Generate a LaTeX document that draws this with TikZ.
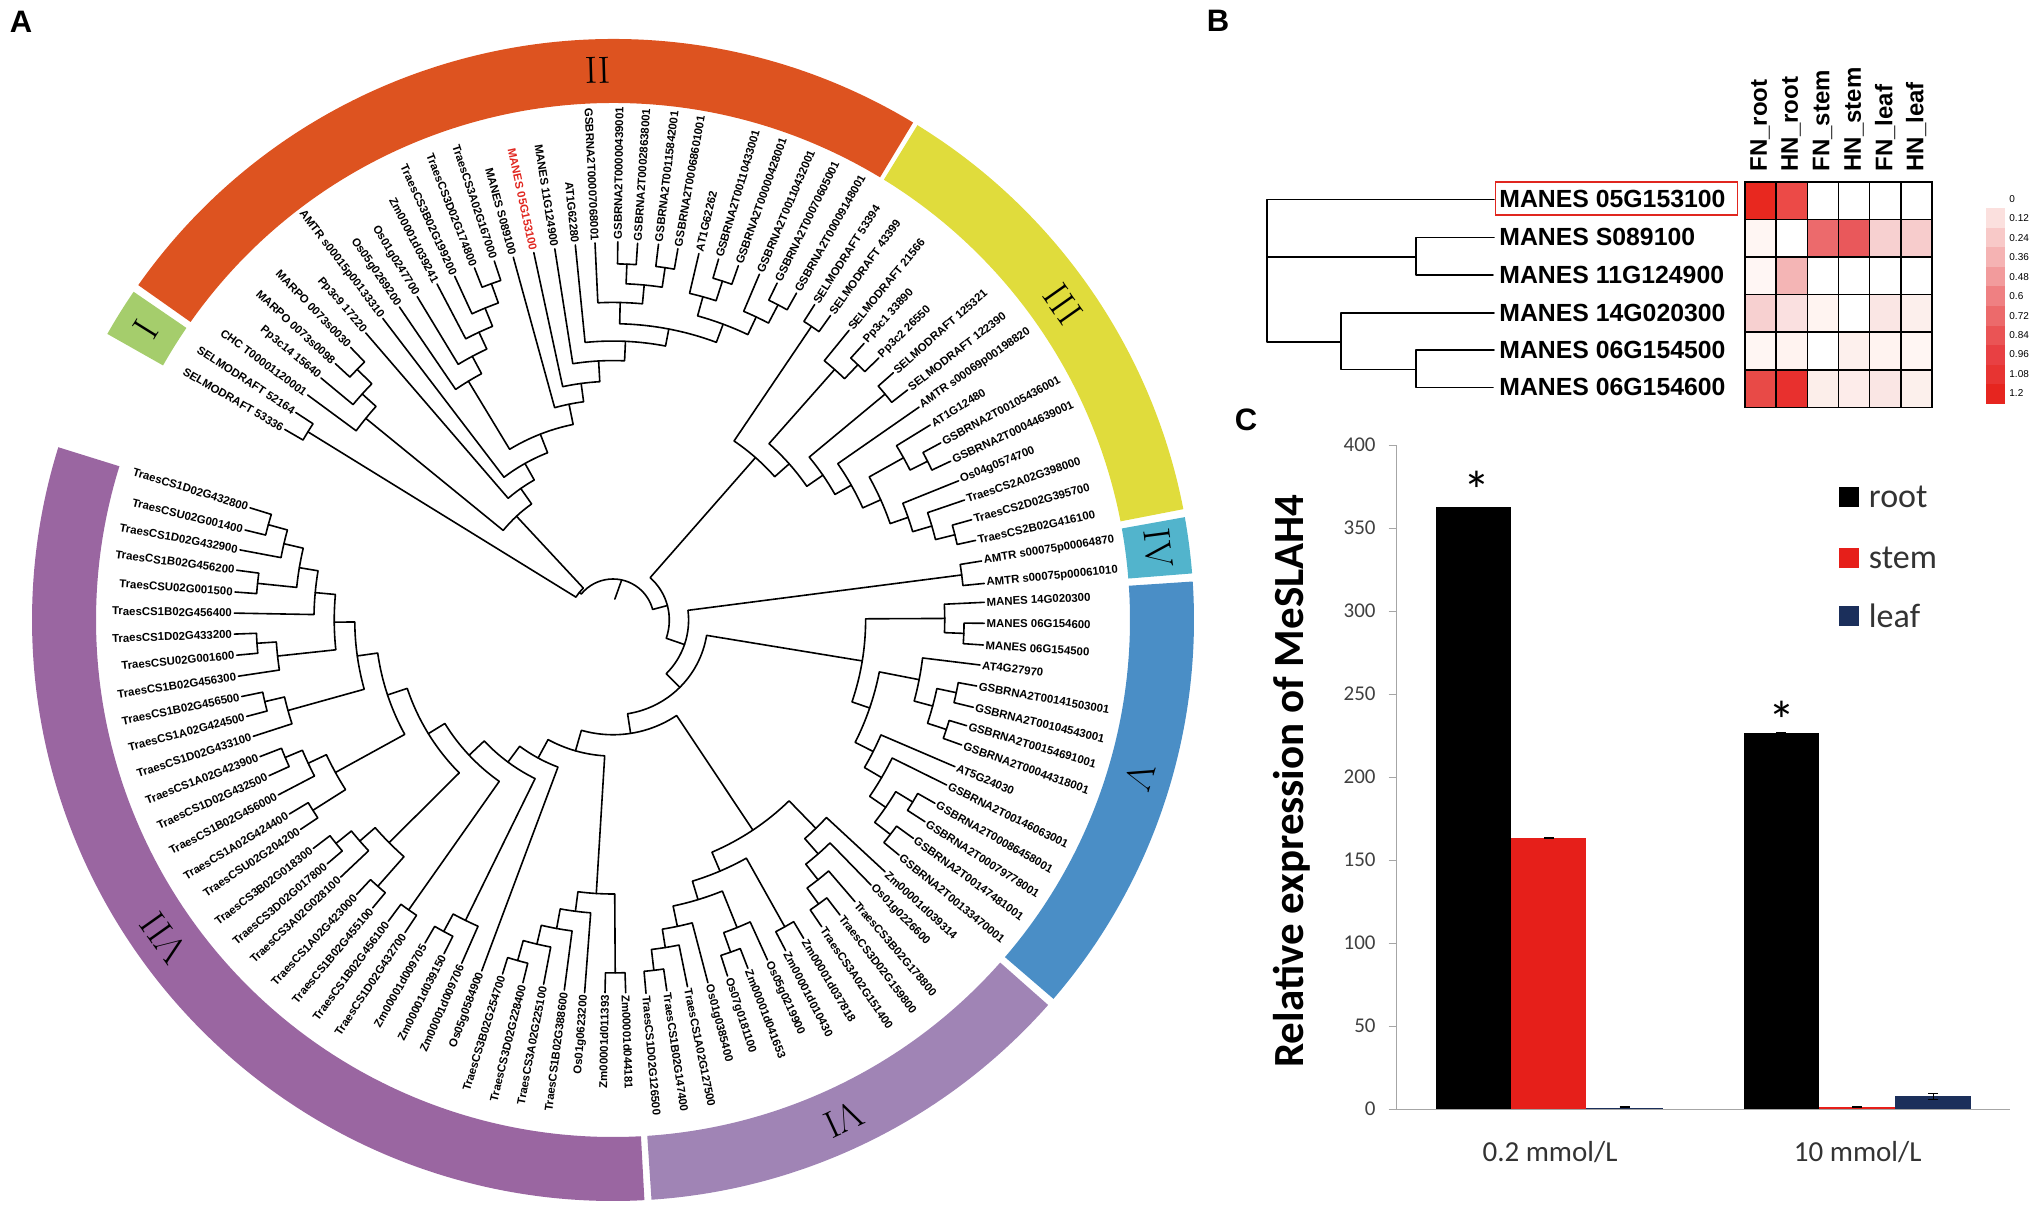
\documentclass[tikz,border=0pt]{standalone}
\usepackage{fontspec}
\newfontfamily\arialfont{Liberation Sans}
\newfontfamily\calibfont{Carlito}
\tikzset{
  leaflab/.style={font=\arialfont\bfseries\fontsize{5.7}{7}\selectfont, inner sep=1pt},
  branch/.style={line width=.8pt, line join=round, line cap=round},
  numeral/.style={font=\fontsize{19}{20}\selectfont, inner sep=0pt},
  panel/.style={font=\arialfont\bfseries\fontsize{15.5}{16}\selectfont, inner sep=0pt},
  genelab/.style={font=\arialfont\bfseries\fontsize{12.4}{14}\selectfont, anchor=west, inner sep=0pt},
  collab/.style={font=\arialfont\bfseries\fontsize{12}{14}\selectfont, anchor=west, rotate=90, inner sep=0pt},
  scalelab/.style={font=\arialfont\fontsize{5}{6}\selectfont, anchor=west, inner sep=0pt},
  heatcell/.style={draw=black, line width=.75pt},
  axisline/.style={draw=black!35, line width=.5pt},
  ticklab/.style={font=\calibfont\fontsize{10.5}{12}\selectfont, text=black!75, anchor=east, inner sep=0pt},
  barlab/.style={font=\calibfont\fontsize{14.5}{16}\selectfont, text=black!80, inner sep=0pt},
  leglab/.style={font=\calibfont\fontsize{17}{18}\selectfont, text=black!80, anchor=west, inner sep=0pt},
  errbar/.style={line width=.5pt, draw=black},
  starlab/.style={font=\calibfont\fontsize{27}{28}\selectfont, inner sep=0pt},
}
% tip of a leaf, in pixels of the figure; the label sits along the radius
\newcommand\leaf[4]{%
  \pgfmathsetmacro\lfR{veclen(#2-613,620-#3)}%
  \pgfmathsetmacro\lfA{atan2(620-#3,#2-613)}%
  \pgfmathsetmacro\lfA{(\lfA>156)?(\lfA-360):(\lfA)}%
  \expandafter\xdef\csname a@#1\endcsname{\lfA}%
  \coordinate (#1) at (\lfA:\lfR);
  \pgfmathtruncatemacro\lfL{cos(\lfA)<0}%
  \ifnum\lfL=1
    \node[leaflab, anchor=east, rotate=\lfA+180] (#1-lab) at (\lfA:\lfR) {#4};
  \else
    \node[leaflab, anchor=west, rotate=\lfA] (#1-lab) at (\lfA:\lfR) {#4};
  \fi
}
% name, two children, a pixel on the arc of the clade
\newcommand\clade[5]{%
  \pgfmathsetmacro\clR{veclen(#4-613,620-#5)}%
  \edef\clA{\csname a@#2\endcsname}%
  \edef\clB{\csname a@#3\endcsname}%
  \pgfmathsetmacro\clM{(\clA+\clB)/2}%
  \expandafter\xdef\csname a@#1\endcsname{\clM}%
  \coordinate (#1) at (\clM:\clR);
  \draw[branch] (#2) -- (\clA:\clR) arc[start angle=\clA, end angle=\clB, radius=\clR] -- (#3);
}
\begin{document}
\begin{tikzpicture}[x=.5pt,y=-.5pt]
  \useasboundingbox (0,0) rectangle (2033,1204);
  \node[panel] (panelA) at (21,22) {A};
  \node[panel] (panelB) at (1218,21) {B};
  \node[panel] (panelC) at (1246,420) {C};

  % panel A
  \begin{scope}[shift={(613,620)},y=.5pt]
    \foreach \rname/\rs/\re/\rcol/\rm/\rlab in {
      ringI/145.6/150.5/A5CD6C/148.1/I,
      ringII/58.9/144.8/DD5320/91.6/II,
      ringIII/11/58.4/E0DC3C/35.1/III,
      ringIV/4.6/10.2/52B4CC/7.5/IV,
      ringV/-40.7/3.8/4A8EC6/-16.6/V,
      ringVI/-86.2/-41.5/A084B5/-65.2/VI,
      ringVII/162.7/273.1/9A66A1/215.3/VII}{
      \definecolor{ringcol}{HTML}{\rcol}
      \fill[ringcol] (\rs:581) arc[start angle=\rs, end angle=\re, radius=581]
        -- (\re:517) arc[start angle=\re, end angle=\rs, radius=517] -- cycle;
      \node[numeral, rotate=\rm-90] (\rname) at (\rm:550) {\rlab};
    }

    \foreach \lname/\lx/\ly/\ltext in {
      sel53336/284.7/429.4/SELMODRAFT 53336,
      sel52164/295.8/412.5/SELMODRAFT 52164,
      chc/307.6/395/CHC T00001120001,
      pp14/321/378/Pp3c14 15640,
      marpo98/335.3/363.6/MARPO 0073s0098,
      marpo30/350.7/347.5/MARPO 0073s0030,
      pp9/365.8/333/Pp3c9 17220,
      amtr15/382.8/318.4/AMTR s00015p00133310,
      os05269/399.4/307/Os05g0269200,
      os01247/417.2/296.6/Os01g0247700,
      zm241/437/284/Zm00001d039241,
      t3b199/454.7/276.3/TraesCS3B02G199200,
      t3d174/474.5/267.9/TraesCS3D02G174800,
      t3a167/494.3/261/TraesCS3A02G167000,
      ms089/513.3/257.2/MANES S089100,
      m05/533.8/252.6/\textcolor[HTML]{E0261F}{MANES 05G153100},
      m11/554.8/248.8/MANES 11G124900,
      at62280/575.3/245/AT1G62280,
      gs7068/595/243/GSBRNA2T00007068001,
      gs439/617.8/241.8/GSBRNA2T00000439001,
      gs28638/637.6/243.2/GSBRNA2T00028638001,
      gs115842/658.5/244.2/GSBRNA2T00115842001,
      gs68601/677.9/248.7/GSBRNA2T00068601001,
      at62262/698.9/253.5/AT1G62262,
      gs110433/718.6/259/GSBRNA2T00110433001,
      gs428/738.4/265.6/GSBRNA2T00000428001,
      gs110432/759.4/274.2/GSBRNA2T00110432001,
      gs70605/777.1/283.1/GSBRNA2T00070605001,
      gs9148/796.5/293.1/GSBRNA2T00009148001,
      sel53394/814.7/304.5/SELMODRAFT 53394,
      sel43399/830.5/315.5/SELMODRAFT 43399,
      sel21566/849.1/330.3/SELMODRAFT 21566,
      pp1/864.1/343.4/Pp3c1 33890,
      pp2/878.8/357.9/Pp3c2 26550,
      sel125321/893.4/372.7/SELMODRAFT 125321,
      sel122390/907.6/389.9/SELMODRAFT 122390,
      amtr69/919.1/407.1/AMTR s00069p00198820,
      at12480/930.2/425/AT1G12480,
      gs105436/940.8/442.9/GSBRNA2T00105436001,
      gs44639/950.7/461.2/GSBRNA2T00044639001,
      os04/958.6/480.8/Os04g0574700,
      t2a398/964.6/500/TraesCS2A02G398000,
      t2d395/971.7/519.7/TraesCS2D02G395700,
      t2b416/975.6/540.4/TraesCS2B02G416100,
      amtr64870/981.6/561/AMTR s00075p00064870,
      amtr61010/984.3/583.4/AMTR s00075p00061010,
      m14020/984.3/602.3/MANES 14G020300,
      m06600/984.3/623.3/MANES 06G154600,
      m06500/983.3/645/MANES 06G154500,
      at27970/980/665/AT4G27970,
      gs141503/976.7/686/GSBRNA2T00141503001,
      gs104543/973.3/707.3/GSBRNA2T00104543001,
      gs154691/966.7/725.7/GSBRNA2T00154691001,
      gs44318/961.7/745/GSBRNA2T00044318001,
      at24030/955/766.7/AT5G24030,
      gs146063/946.7/785/GSBRNA2T00146063001,
      gs86458/935/803.3/GSBRNA2T00086458001,
      gs79778/925/821.7/GSBRNA2T00079778001,
      gs147481/913.3/838.3/GSBRNA2T00147481001,
      gs133470/899/855/GSBRNA2T00133470001,
      zm039314/885/871.7/Zm00001d039314,
      os01226/871/885/Os01g0226600,
      t3b178/855/901.7/TraesCS3B02G178800,
      t3d159/840/915/TraesCS3D02G159800,
      t3a151/821.7/926.7/TraesCS3A02G151400,
      zm037818/803.6/938.3/Zm00001d037818,
      zm010430/785.7/950.7/Zm00001d010430,
      os05219/767.5/960/Os05g0219900,
      zm041653/747.9/968.3/Zm00001d041653,
      os07/727.5/976/Os07g0181100,
      os01385/707.9/982.7/Os01g0385400,
      t1a127/687.5/986.7/TraesCS1A02G127500,
      t1b147/666.8/990.7/TraesCS1B02G147400,
      t1d126/646/993.3/TraesCS1D02G126500,
      zm044/625.7/992.7/Zm00001d044181,
      zm011/605/992.7/Zm00001d011393,
      os01623/584.6/992.7/Os01g0623200,
      t1b388/564.3/990/TraesCS1B02G388600,
      t3a225/543.6/984.3/TraesCS3A02G225100,
      t3d228/522.9/982.7/TraesCS3D02G228400,
      t3b254/502.5/974/TraesCS3B02G254700,
      os05584/481.7/970.9/Os05g0584900,
      zm9706/461.7/963.3/Zm00001d009706,
      zm39150/444/953.7/Zm00001d039150,
      zm9705/425/943/Zm00001d009705,
      t432700/405/932.6/TraesCS1D02G432700,
      t456100/388.3/921.2/TraesCS1B02G456100,
      t455100/372.7/907.8/TraesCS1B02G455100,
      t423000/356.7/894.4/TraesCS1A02G423000,
      t3a028/340.7/877.1/TraesCS3A02G028100,
      t3d017/327.3/863.7/TraesCS3D02G017800,
      t3b018/313.3/848.4/TraesCS3B02G018300,
      tu204200/300.7/829.3/TraesCSU02G204200,
      t424400/289.3/814/TraesCS1A02G424400,
      t456000/278.3/794.9/TraesCS1B02G456000,
      t432500/269/775.7/TraesCS1D02G432500,
      t423900/260/756.6/TraesCS1A02G423900,
      t433100/253.3/736.3/TraesCS1D02G433100,
      t424500/246.7/716.4/TraesCS1A02G424500,
      t456500/241.7/696.5/TraesCS1B02G456500,
      t456300/238.3/676.2/TraesCS1B02G456300,
      tu1600/236.7/655.2/TraesCSU02G001600,
      t433200/234.3/634.1/TraesCS1D02G433200,
      t456400/234.3/613.1/TraesCS1B02G456400,
      tu1500/235/592/TraesCSU02G001500,
      t456200/236.7/570.2/TraesCS1B02G456200,
      t432900/240/549.9/TraesCS1D02G432900,
      tu1400/245/530/TraesCSU02G001400,
      t432800/250/507.8/TraesCS1D02G432800}{
      \leaf{\lname}{\lx}{\ly}{\ltext}
    }

    % clades II
    \clade{s12}{sel53336}{sel52164}{313.6}{422.9}
    \clade{mar}{marpo98}{marpo30}{363.8}{362.8}
    \clade{pmar}{pp14}{mar}{371.7}{383.9}
    \clade{cmar}{chc}{pmar}{374.9}{407.6}
    \clade{t34}{t3d174}{t3a167}{498.2}{281.3}
    \clade{t33}{t3b199}{t34}{495}{304.2}
    \clade{zt}{zm241}{t33}{490.3}{327.2}
    \clade{ozt}{os01247}{zt}{484.4}{350.2}
    \clade{oozt}{os05269}{ozt}{480.4}{374.3}
    \clade{gs1}{gs439}{gs28638}{617.8}{263.9}
    \clade{gs2}{gs115842}{gs68601}{657.3}{266.6}
    \clade{gs3}{gs1}{gs2}{625.7}{283.8}
    \clade{gs4}{gs7068}{gs3}{642.7}{303.8}
    \clade{gs5}{gs110433}{gs428}{732.5}{284.5}
    \clade{gs6}{at62262}{gs5}{690.2}{293.5}
    \clade{gs7}{gs70605}{gs9148}{787}{309.7}
    \clade{gs8}{gs110432}{gs7}{769.2}{323.4}
    \clade{gs9}{gs6}{gs8}{747.5}{334.4}
    \clade{gs10}{gs4}{gs9}{716.6}{342.4}
    \clade{gs11}{at62280}{gs10}{584.4}{342.5}
    \clade{gs12}{m11}{gs11}{573.4}{363.6}
    \clade{gs13}{m05}{gs12}{563.5}{386.5}
    \clade{gs14}{ms089}{gs13}{554.8}{407.6}
    \clade{gs15}{oozt}{gs14}{571.4}{424.8}
    \clade{gs16}{amtr15}{gs15}{545.7}{453.5}
    \clade{gs17}{pp9}{gs16}{531.8}{481.4}
    \clade{big}{cmar}{gs17}{529.9}{505.2}
    \clade{r1}{s12}{big}{576}{597}
    % clades III, IV
    \clade{sel1}{sel53394}{sel43399}{819.5}{332}
    \clade{pp12}{pp1}{pp2}{864.9}{371.6}
    \clade{sel2}{sel21566}{pp12}{844.4}{378.5}
    \clade{sel3}{sel125321}{sel122390}{890.6}{400.9}
    \clade{gs39}{gs105436}{gs44639}{931.4}{469.1}
    \clade{at3}{at12480}{gs39}{909.6}{469.1}
    \clade{t2x}{t2d395}{t2b416}{957}{543.8}
    \clade{t2y}{t2a398}{t2x}{935.3}{538.7}
    \clade{t2z}{os04}{t2y}{912.4}{530.7}
    \clade{at4}{at3}{t2z}{889.8}{522.5}
    \clade{am6}{amtr69}{at4}{862.2}{506.6}
    \clade{sel4}{sel3}{am6}{834.1}{492.9}
    \clade{sel5}{sel2}{sel4}{805.6}{484.6}
    \clade{upp}{sel1}{sel5}{773.2}{475}
    \clade{am7}{amtr64870}{amtr61010}{962.7}{583.3}
    % clades V
    \clade{m06}{m06600}{m06500}{963.3}{643.3}
    \clade{m14}{m14020}{m06}{944.3}{603.3}
    \clade{v1}{gs141503}{gs104543}{954}{702.7}
    \clade{v2}{gs154691}{gs44318}{942.7}{740}
    \clade{v3}{v1}{v2}{927.3}{724}
    \clade{v4}{at27970}{v3}{914}{701.7}
    \clade{v5}{gs86458}{gs79778}{907.3}{810.7}
    \clade{v6}{gs147481}{gs133470}{883.3}{843.3}
    \clade{v7}{v5}{v6}{874}{823.3}
    \clade{v8}{gs146063}{v7}{869}{797.3}
    \clade{v9}{at24030}{v8}{864}{768.3}
    \clade{v10}{v4}{v9}{855}{742.7}
    \clade{v11}{m14}{v10}{851.7}{702.7}
    % clades VI
    \clade{x1}{t3a151}{t3d159}{810}{910}
    \clade{x2}{t3b178}{x1}{806.7}{888.3}
    \clade{x3}{os01226}{x2}{806}{864}
    \clade{x4}{zm039314}{x3}{804}{839.3}
    \clade{y1}{os07}{zm041653}{741}{948.3}
    \clade{y2}{y1}{os05219}{750.7}{921.7}
    \clade{y3}{t1d126}{t1b147}{663.9}{969}
    \clade{y4}{y3}{t1a127}{679.3}{945}
    \clade{y5}{y4}{os01385}{692.9}{922.7}
    \clade{y6}{y5}{y2}{723.2}{890.7}
    \clade{y7}{zm010430}{zm037818}{793.6}{921.7}
    \clade{y8}{y6}{y7}{746.1}{858.3}
    \clade{x5}{y8}{x4}{788.2}{801.7}
    \clade{w1}{t3b254}{t3d228}{525.7}{962.7}
    \clade{w2}{w1}{t3a225}{548.9}{946.7}
    \clade{w3}{w2}{t1b388}{570.4}{930.7}
    \clade{w4}{w3}{os01623}{588.9}{912.7}
    \clade{w5}{zm011}{zm044}{625}{972.7}
    \clade{w6}{w4}{w5}{613.9}{894}
    % clades VII
    \clade{u1}{t432800}{tu1400}{265.7}{534.6}
    \clade{u2}{u1}{t432900}{281}{557.6}
    \clade{u3}{t456200}{tu1500}{256.7}{592.8}
    \clade{u4}{u2}{u3}{296.7}{587.1}
    \clade{u5}{u4}{t456400}{314}{614.2}
    \clade{u6}{t433200}{tu1600}{257.7}{652.5}
    \clade{u7}{u6}{t456300}{279.3}{669.7}
    \clade{u8}{u5}{u7}{335.7}{648.7}
    \clade{u9}{t456500}{t424500}{267.3}{711.8}
    \clade{u10}{u9}{t433100}{292.3}{724.8}
    \clade{u11}{u8}{u10}{364.3}{689.6}
    \clade{u12}{t423900}{t432500}{289}{766.2}
    \clade{u13}{u12}{t456000}{314.3}{775.7}
    \clade{u14}{t424400}{tu204200}{318.3}{818.6}
    \clade{u15}{u13}{u14}{345.7}{789.9}
    \clade{u16}{u11}{u15}{404.3}{733.6}
    \clade{u17}{t3b018}{t3d017}{341.7}{850.4}
    \clade{u18}{u17}{t3a028}{369.3}{851.5}
    \clade{u19}{t423000}{t455100}{385}{892.5}
    \clade{u20}{u18}{u19}{403.3}{856.1}
    \clade{u21}{u16}{u20}{458.3}{771.9}
    \clade{u22}{t456100}{t432700}{416.7}{915.4}
    \clade{u23}{u21}{u22}{498.3}{780.7}
    \clade{u24}{zm9705}{zm39150}{451.7}{935.7}
    \clade{u25}{u24}{zm9706}{477.7}{926.1}
    \clade{u26}{u23}{u25}{533.3}{777.7}
    \clade{u27}{u26}{os05584}{555.7}{766.2}
    % middle of the tree
    \clade{r6}{u27}{w6}{602.7}{755.7}
    \clade{r5}{r6}{x5}{675}{716.7}
    \clade{r4}{v11}{r5}{706.7}{635}
    \clade{r3}{am7}{r4}{687.7}{608.3}
    \clade{r2}{upp}{r3}{669.3}{620}
    \clade{rootarc}{r1}{r2}{612}{579}
    \coordinate (rootstub) at (85:21);
    \draw[branch] (rootarc) -- (rootstub);
  \end{scope}

  % panel B
  \foreach \gname/\gy/\gtext in {
    g05/199.3/MANES 05G153100,
    gs08/237.3/MANES S089100,
    g11/275/MANES 11G124900,
    g14/312.7/MANES 14G020300,
    g0645/350/MANES 06G154500,
    g0646/387.3/MANES 06G154600}{
    \node[genelab] (\gname) at (1499,\gy) {\gtext};
  }
  \draw[draw={rgb,255:red,224;green,38;blue,31}, line width=.7pt] (1495.4,182) rectangle (1737.3,215);
  \coordinate (j1) at (1267,268);
  \coordinate (j2) at (1416,256.7);
  \coordinate (j3) at (1341,341.7);
  \coordinate (j4) at (1416,369.3);
  \draw[branch] (g05.west) ++(-5,0) coordinate (e05) -- (e05 -| j1) -- (j1 |- j3) -- (j3);
  \draw[branch] (j1 |- j2) -- (j2);
  \draw[branch] (gs08.west) ++(-5,0) -- (gs08 -| j2) -- (g11 -| j2) -- ++(77,0);
  \draw[branch] (g14.west) ++(-5,0) -- (g14 -| j3) -- (j3 |- j4) -- (j4);
  \draw[branch] (g0645.west) ++(-5,0) -- (g0645 -| j4) -- (g0646 -| j4) -- ++(77,0);

  \foreach \rowcols [count=\rw from 0] in {
    {E8281F,EC4A47,FFFFFF,FFFFFF,FFFFFF,FFFFFF},
    {FFF6F3,FFFFFF,EC6A6C,E9585B,F7D0D0,F7CCCC},
    {FFF6F4,F4B5B5,FFFFFF,FFFFFF,FFFFFF,FFFFFF},
    {F7D0D0,FAE0E0,FFF4F1,FFFFFF,FAE6E4,FCEFEC},
    {FFF6F3,FFF3F0,FFFFFF,FDF0ED,FFF3F0,FFF6F3},
    {E84A47,E8302E,FCEEEA,FDECEA,FAE6E4,FCF0EC}}{
    \foreach \hc [count=\cn from 0] in \rowcols {
      \definecolor{cellcol}{HTML}{\hc}
      \draw[heatcell, fill=cellcol] ({1745+31.15*\cn},{182+37.55*\rw}) rectangle ++(31.15,37.55);
    }
  }
  \foreach \cname/\cx/\ctext in {
    cfr/1760/FN\_root, chr/1791/HN\_root, cfs/1822.5/FN\_stem,
    chs/1854/HN\_stem, cfl/1885/FN\_leaf, chl/1916/HN\_leaf}{
    \node[collab] (\cname) at (\cx,172) {\ctext};
  }
  \foreach \bandcol [count=\bn from 0] in {FBE0DE,F8C9C8,F5B3B3,F29B9C,EF8082,EC6A6B,EA5455,E84043,E73432,E6251F}{
    \definecolor{bandcol}{HTML}{\bandcol}
    \fill[bandcol] (1986,{208+19.6*\bn}) rectangle (2005,{208+19.6*(\bn+1)});
  }
  \foreach \slab [count=\sn from 0] in {0,0.12,0.24,0.36,0.48,0.6,0.72,0.84,0.96,1.08,1.2}{
    \node[scalelab] (scale\sn) at (2009,{199+19.43*\sn}) {\slab};
  }

  % panel C
  \draw[axisline] (1396.4,445) -- (1396.4,1109.2) -- (2009.8,1109.2);
  \foreach \tv in {0,50,...,400}{
    \draw[axisline] (1388.7,{1109.2-1.6605*\tv}) -- (1396.4,{1109.2-1.6605*\tv});
    \node[ticklab] (tick\tv) at (1376,{1109.2-1.6605*\tv}) {\tv};
  }
  \foreach \bname/\bl/\br/\bt/\bcol in {
    barA/1436.3/1511/507/000000,
    barB/1511/1586.4/838.3/E61F1A,
    barC/1586.4/1662.7/1107.6/1B2F5B,
    barD/1743.6/1818.8/733.3/000000,
    barE/1818.8/1895.1/1107/E61F1A,
    barF/1895.1/1971/1096.4/1B2F5B}{
    \definecolor{barcol}{HTML}{\bcol}
    \fill[barcol] (\bl,\bt) rectangle (\br,1109.2);
  }
  \foreach \ex/\ea/\eb in {1549/837.5/838.3, 1624.5/1106.5/1107.6, 1781.2/732/733.3, 1857/1106.3/1107, 1933/1093/1099}{
    \draw[errbar] (\ex-5,\ea) -- (\ex+5,\ea) (\ex,\ea) -- (\ex,\eb) (\ex-5,\eb) -- (\ex+5,\eb);
  }
  \node[starlab] (starA) at (1476.8,490) {*};
  \node[starlab] (starB) at (1782,720) {*};
  \node[barlab] (doseA) at (1550,1151.7) {0.2 mmol/L};
  \node[barlab] (doseB) at (1857.7,1151.7) {10 mmol/L};
  \node[font=\calibfont\bfseries\fontsize{21.5}{22}\selectfont, rotate=90, inner sep=0pt] (ylab) at (1291.4,781) {Relative expression of MeSLAH4};
  \foreach \lg/\lgy/\lgcol/\lgtext in {lgroot/497/000000/root, lgstem/557.5/E61F1A/stem, lgleaf/616/1B2F5B/leaf}{
    \definecolor{lgcol}{HTML}{\lgcol}
    \fill[lgcol] (1839.3,\lgy-10) rectangle (1858.8,\lgy+10);
    \node[leglab] (\lg) at (1868.5,\lgy) {\lgtext};
  }
\end{tikzpicture}
\end{document}
